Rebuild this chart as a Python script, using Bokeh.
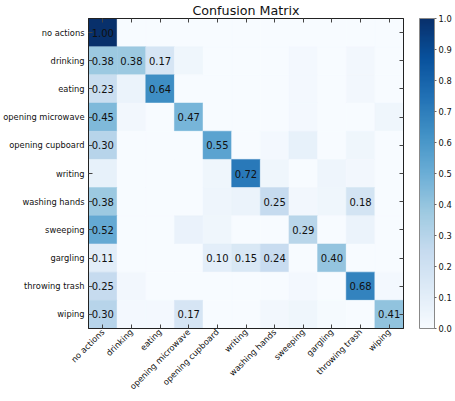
import math
from bokeh.plotting import figure
from bokeh.models import (ColumnDataSource, LinearColorMapper, ColorBar, FixedTicker,
                          CategoricalAxis, PrintfTickFormatter, FactorRange,
                          CustomJSTickFormatter)
from bokeh.palettes import Blues256
from bokeh.core.properties import value
from bokeh.embed import file_html
from bokeh.resources import INLINE

labels = ["no actions", "drinking", "eating", "opening microwave", "opening cupboard",
          "writing", "washing hands", "sweeping", "gargling", "throwing trash", "wiping"]

row_no_actions = [1.00, 0, 0, 0, 0, 0, 0, 0, 0, 0, 0]
row_drinking = [0.38, 0.38, 0.17, 0.04, 0, 0, 0, 0.02, 0, 0.03, 0]
row_eating = [0.23, 0.06, 0.64, 0, 0, 0, 0, 0.02, 0, 0.03, 0]
row_opening_microwave = [0.45, 0.03, 0, 0.47, 0, 0, 0, 0.02, 0, 0, 0.04]
row_opening_cupboard = [0.30, 0, 0, 0, 0.55, 0, 0.02, 0.08, 0, 0.04, 0]
row_writing = [0.08, 0, 0, 0, 0.04, 0.72, 0.04, 0, 0.05, 0.03, 0]
row_washing_hands = [0.38, 0, 0, 0, 0.05, 0.06, 0.25, 0.03, 0.04, 0.18, 0]
row_sweeping = [0.52, 0, 0, 0.07, 0.04, 0, 0, 0.29, 0, 0.06, 0]
row_gargling = [0.11, 0, 0, 0, 0.10, 0.15, 0.24, 0, 0.40, 0, 0]
row_throwing_trash = [0.25, 0.03, 0, 0, 0, 0, 0, 0.02, 0, 0.68, 0.02]
row_wiping = [0.30, 0.02, 0.02, 0.17, 0, 0, 0.03, 0.04, 0.01, 0, 0.41]

rows = [row_no_actions, row_drinking, row_eating, row_opening_microwave, row_opening_cupboard,
        row_writing, row_washing_hands, row_sweeping, row_gargling, row_throwing_trash, row_wiping]

colorbar_ticks = [0.0, 0.1, 0.2, 0.3, 0.4, 0.5, 0.6, 0.7, 0.8, 0.9, 1.0]

xs, ys, vals, txt = [], [], [], []
for r, row in zip(labels, rows):
    for c, v in zip(labels, row):
        xs.append(c)
        ys.append(r)
        vals.append(v)
        txt.append("%.2f" % v if v >= 0.095 else "")

src = ColumnDataSource(dict(x=xs, y=ys, v=vals, t=txt))

palette = list(reversed(Blues256))
mapper = LinearColorMapper(palette=palette, low=0, high=1)

FONT = "DejaVu Sans"
FW, FH = 315, 310

p = figure(frame_width=FW, frame_height=FH,
           x_range=FactorRange(*labels), y_range=FactorRange(*reversed(labels)),
           output_backend="svg", toolbar_location=None,
           min_border_left=84, min_border_right=52, min_border_top=0, min_border_bottom=0)

p.rect(x="x", y="y", width=1, height=1, source=src,
       fill_color={"field": "v", "transform": mapper},
       line_color={"field": "v", "transform": mapper}, line_width=0.5)
p.text(x="x", y="y", text="t", source=src, text_align="center", text_baseline="middle",
       text_font=value(FONT), text_font_size="10px", text_color="#111111")

p.title.text = "Confusion Matrix"
p.title.align = "center"
p.title.text_font = FONT
p.title.text_font_size = "12.7px"
p.title.text_font_style = "normal"
p.title.text_color = "#111111"
p.title.standoff = 1

p.grid.visible = False
p.outline_line_color = "#222222"
p.outline_line_width = 1

for ax in (p.xaxis[0], p.yaxis[0]):
    ax.major_tick_in = 4
    ax.major_tick_out = 0
    ax.minor_tick_in = 0
    ax.minor_tick_out = 0
    ax.axis_line_color = "#222222"
    ax.major_tick_line_color = "#444444"
    ax.major_label_text_font = FONT
    ax.major_label_text_font_size = "8.3px"
    ax.major_label_text_color = "#111111"
    ax.major_label_text_line_height = 1.0
    ax.major_label_standoff = 2

p.yaxis.major_label_standoff = 4
p.xaxis.major_label_orientation = math.pi / 4

for loc in ("above", "right"):
    a = CategoricalAxis(formatter=CustomJSTickFormatter(code="return ''"))
    a.major_tick_in = 4
    a.major_tick_out = 0
    a.major_label_standoff = 0
    a.axis_line_color = "#222222"
    a.major_tick_line_color = "#444444"
    p.add_layout(a, loc)

cb = ColorBar(color_mapper=mapper, ticker=FixedTicker(ticks=colorbar_ticks),
              formatter=PrintfTickFormatter(format="%.1f"),
              width=15, height=FH, location=(FW + 16, 0), padding=0, margin=0,
              bar_line_color="#888888", major_tick_in=0, major_tick_out=2,
              major_tick_line_color="#666666", label_standoff=2,
              major_label_text_font=FONT, major_label_text_font_size="8.3px",
              major_label_text_color="#111111",
              background_fill_alpha=0, border_line_color=None)
p.add_layout(cb, "center")

open("out.html", "w").write(file_html(p, INLINE))
